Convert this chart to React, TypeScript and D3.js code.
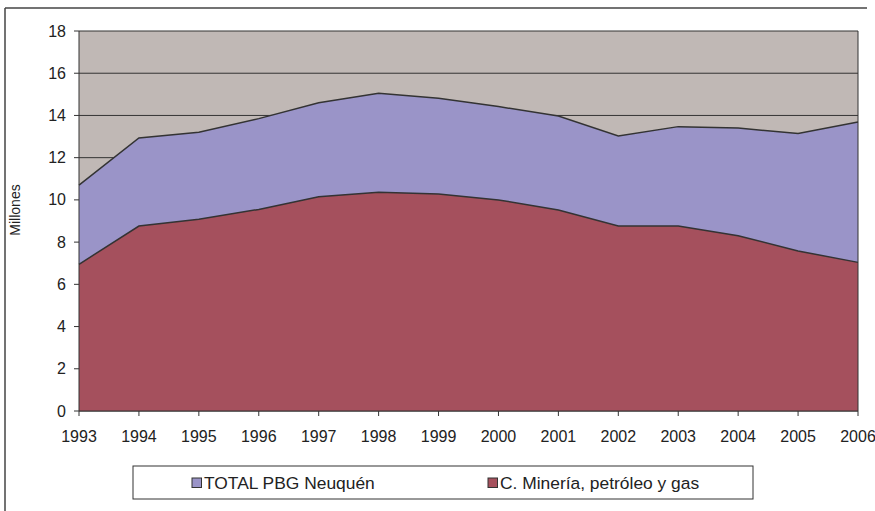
import React from "react";
import * as d3 from "d3";

const years = [1993, 1994, 1995, 1996, 1997, 1998, 1999, 2000, 2001, 2002, 2003, 2004, 2005, 2006];
const totalPBG = [10.7, 12.93, 13.2, 13.85, 14.6, 15.05, 14.81, 14.42, 13.97, 13.03, 13.47, 13.4, 13.15, 13.69];
const mineria = [6.95, 8.76, 9.08, 9.55, 10.15, 10.36, 10.28, 10.0, 9.52, 8.76, 8.76, 8.3, 7.58, 7.04];
const yTicks = [0, 2, 4, 6, 8, 10, 12, 14, 16, 18];
const seriesNames = ["TOTAL PBG Neuquén", "C. Minería, petróleo y gas"];
const seriesColors = ["#9A94C8", "#A5505D"];

const W = 875;
const H = 511;
const left = 79;
const right = 858;
const top = 31;
const bottom = 411;
const font = "'Liberation Sans', Arial, sans-serif";

export default function App() {
  const x = d3.scaleLinear().domain([1993, 2006]).range([left, right]);
  const y = d3.scaleLinear().domain([0, 18]).range([bottom, top]);

  const area = d3
    .area<[number, number]>()
    .x((d) => x(d[0]))
    .y0(y(0))
    .y1((d) => y(d[1]));
  const line = d3
    .line<[number, number]>()
    .x((d) => x(d[0]))
    .y((d) => y(d[1]));

  const totalData: [number, number][] = years.map((yr, i) => [yr, totalPBG[i]]);
  const minData: [number, number][] = years.map((yr, i) => [yr, mineria[i]]);

  const legendItems = [
    { name: seriesNames[0], color: seriesColors[0], sx: 192 },
    { name: seriesNames[1], color: seriesColors[1], sx: 488 },
  ];

  return (
    <svg
      width={W}
      height={H}
      style={{ position: "fixed", top: 0, left: 0, background: "#fff" }}
      fontFamily={font}
    >
      {/* outer frame */}
      <line x1={5} y1={8} x2={867} y2={8} stroke="#444" strokeWidth={1.5} />
      <line x1={5} y1={8} x2={5} y2={H + 2} stroke="#444" strokeWidth={1.5} />

      {/* plot background */}
      <rect x={left} y={top} width={right - left} height={bottom - top} fill="#C0B8B5" />
      {yTicks.map((t) => (
        <line key={"g" + t} x1={left} x2={right} y1={y(t)} y2={y(t)} stroke="#333" strokeWidth={1} />
      ))}

      {/* areas */}
      <path d={area(totalData) || ""} fill={seriesColors[0]} />
      <path d={line(totalData) || ""} fill="none" stroke="#333" strokeWidth={1.5} />
      <path d={area(minData) || ""} fill={seriesColors[1]} />
      <path d={line(minData) || ""} fill="none" stroke="#333" strokeWidth={1.5} />

      {/* plot border right / axes */}
      <line x1={right} x2={right} y1={top} y2={bottom} stroke="#333" strokeWidth={1} />
      <line x1={left} x2={left} y1={top} y2={bottom} stroke="#333" strokeWidth={1} />
      <line x1={left} x2={right} y1={bottom} y2={bottom} stroke="#333" strokeWidth={1} />

      {/* y ticks */}
      {yTicks.map((t) => (
        <g key={"y" + t}>
          <line x1={left - 5} x2={left} y1={y(t)} y2={y(t)} stroke="#333" strokeWidth={1} />
          <text x={66} y={y(t)} dy="0.35em" textAnchor="end" fontSize={16} fill="#222">
            {t}
          </text>
        </g>
      ))}

      {/* x ticks */}
      {years.map((yr) => (
        <g key={"x" + yr}>
          <line x1={x(yr)} x2={x(yr)} y1={bottom} y2={bottom + 5} stroke="#333" strokeWidth={1} />
          <text x={x(yr)} y={442} textAnchor="middle" fontSize={16} fill="#222">
            {yr}
          </text>
        </g>
      ))}

      {/* y axis title */}
      <text
        transform={`translate(15, 210) rotate(-90)`}
        textAnchor="middle"
        dy="0.35em"
        fontSize={14}
        fill="#222"
      >
        Millones
      </text>

      {/* legend */}
      <rect x={133} y={466} width={620} height={33} fill="#fff" stroke="#333" strokeWidth={1} />
      {legendItems.map((it) => (
        <g key={it.name}>
          <rect x={it.sx} y={478} width={9.5} height={9.5} fill={it.color} stroke="#333" strokeWidth={1} />
          <text x={it.sx + 12} y={489} fontSize={17.4} fill="#222">
            {it.name}
          </text>
        </g>
      ))}
    </svg>
  );
}
